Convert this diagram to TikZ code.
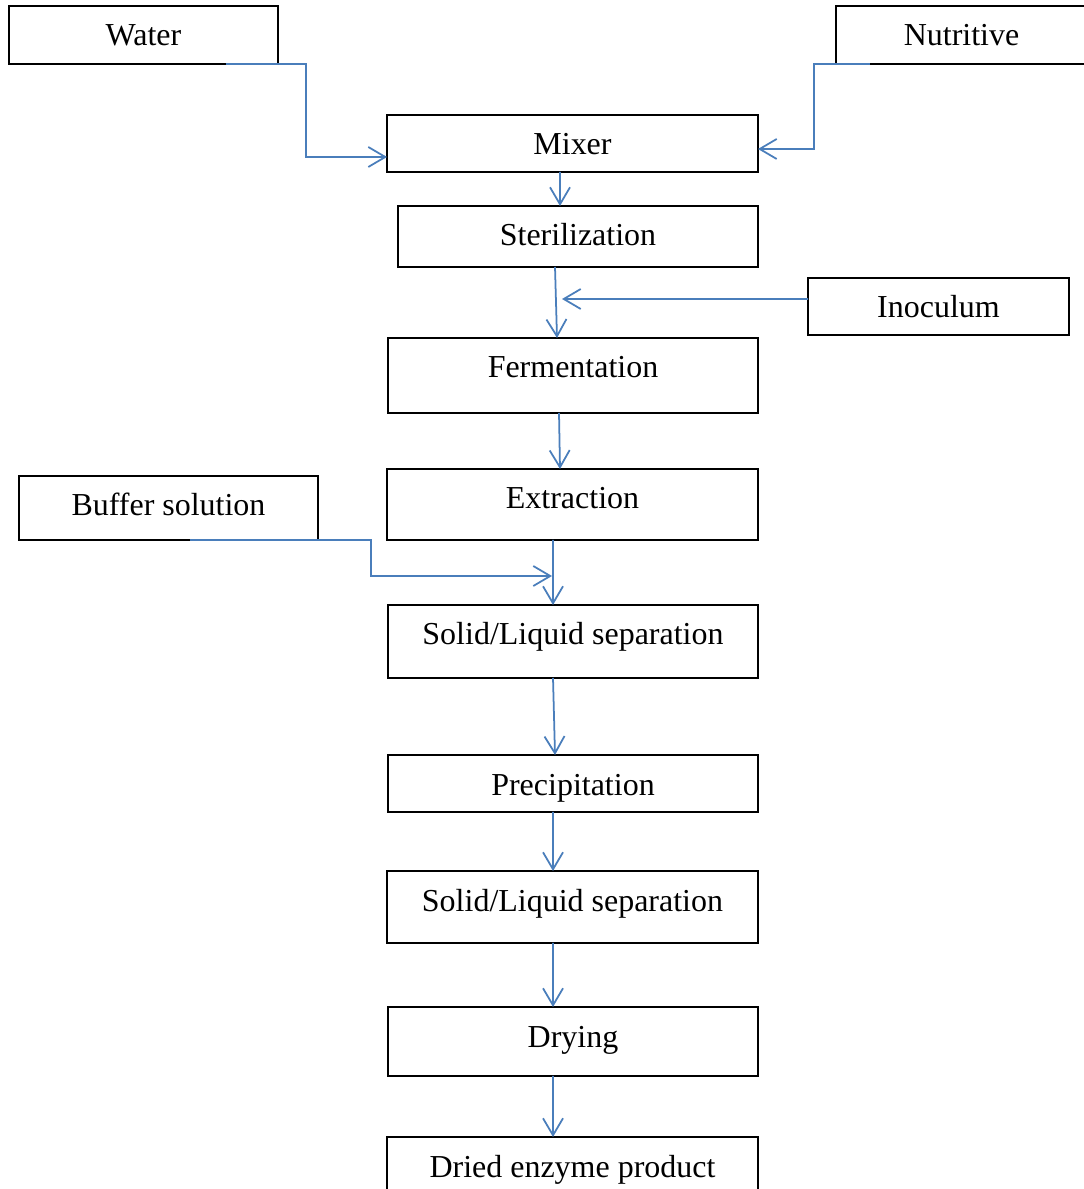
\documentclass[tikz,border=0pt]{standalone}
\usepackage{fontspec}
\setmainfont{Liberation Serif}
\usetikzlibrary{arrows.meta}
\definecolor{flowblue}{RGB}{74,126,187}

\begin{document}
\begin{tikzpicture}[x=0.02cm,y=-0.02cm,
    plainbox/.style={anchor=north,inner xsep=0pt,inner ysep=0pt,outer sep=0pt,
      text height=0.8cm,text depth=#1,font=\fontsize{18.2}{21}\selectfont},
    stepbox/.style={plainbox=#1,draw,line width=0.8pt},
    flow/.style={flowblue,line width=1pt,-{Straight Barb[length=0.34cm,width=0.4cm]}}]
    \useasboundingbox (0,0) rectangle (1083,1189);

    % Inputs
    \node[stepbox=0.36cm,minimum width=5.38cm] (water) at (143.5,6) {Water};
    \node[plainbox=0.36cm,minimum width=5.02cm] (nutri) at (961.5,6) {Nutritive};
    \draw[line width=0.8pt] ([xshift=0.5cm]nutri.north east) -- (nutri.north west)
      -- (nutri.south west) -- ([xshift=0.5cm]nutri.south east);
    \node[stepbox=0.34cm,minimum width=5.22cm] (inoc) at (938.5,278) {Inoculum};
    \node[stepbox=0.48cm,minimum width=5.98cm] (buffer) at (168.5,476) {Buffer solution};

    % Process steps
    \node[stepbox=0.34cm,minimum width=7.42cm] (mixer) at (572.5,115) {Mixer};
    \node[stepbox=0.42cm,minimum width=7.2cm] (steril) at (578,206) {Sterilization};
    \node[stepbox=0.7cm,minimum width=7.4cm] (ferm) at (573,338) {Fermentation};
    \node[stepbox=0.62cm,minimum width=7.42cm] (extr) at (572.5,469) {Extraction};
    \node[stepbox=0.66cm,minimum width=7.4cm] (sepa) at (573,605) {Solid/Liquid separation};
    \node[stepbox=0.34cm,minimum width=7.4cm] (precip) at (573,755) {Precipitation};
    \node[stepbox=0.64cm,minimum width=7.42cm] (sepb) at (572.5,871) {Solid/Liquid separation};
    \node[stepbox=0.58cm,minimum width=7.4cm] (dry) at (573,1007) {Drying};
    \node[stepbox=0.6cm,minimum width=7.42cm] (dried) at (572.5,1137) {Dried enzyme product};

    % Free ends on the main line
    \coordinate (inocin) at (562,299);
    \coordinate (bufin) at (552,576);

    % Side feeds
    \draw[flow] ([xshift=-1.04cm]water.south east) -- ++(80,0) |- ([yshift=-0.27cm]mixer.west);
    \draw[flow] ([xshift=0.68cm]nutri.south west) -- ++(-56,0) |- ([yshift=-0.11cm]mixer.east);
    \draw[flow] ([yshift=0.15cm]inoc.west) -- (inocin);
    \draw[flow] ([xshift=3.42cm]buffer.south west) -- ++(181,0) |- (bufin);

    % Main line
    \draw[flow] ([xshift=-0.25cm]mixer.south) -- ([xshift=-0.36cm]steril.north);
    \draw[flow] ([xshift=-0.46cm]steril.south) -- ([xshift=-0.32cm]ferm.north);
    \draw[flow] ([xshift=-0.28cm]ferm.south) -- ([xshift=-0.25cm]extr.north);
    \draw[flow] ([xshift=-0.39cm]extr.south) -- ([xshift=-0.4cm]sepa.north);
    \draw[flow] ([xshift=-0.4cm]sepa.south) -- ([xshift=-0.36cm]precip.north);
    \draw[flow] ([xshift=-0.4cm]precip.south) -- ([xshift=-0.39cm]sepb.north);
    \draw[flow] ([xshift=-0.39cm]sepb.south) -- ([xshift=-0.4cm]dry.north);
    \draw[flow] ([xshift=-0.4cm]dry.south) -- ([xshift=-0.39cm]dried.north);
\end{tikzpicture}
\end{document}
